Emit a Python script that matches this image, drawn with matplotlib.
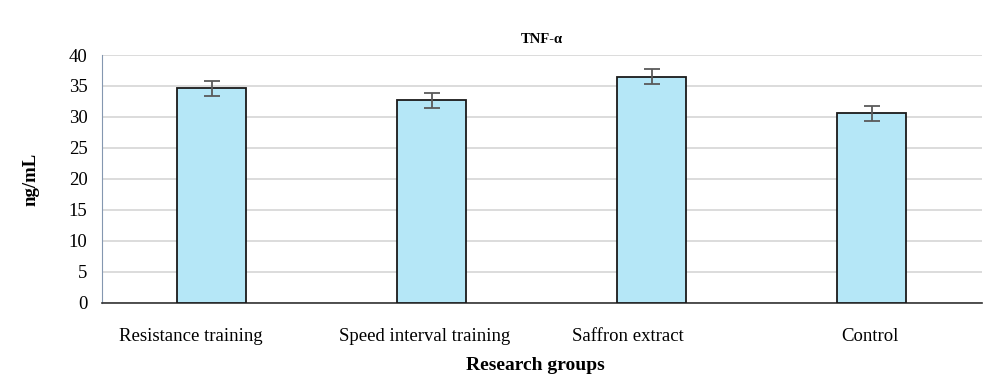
import matplotlib
matplotlib.use('Agg')
import matplotlib.pyplot as plt
from matplotlib.transforms import ScaledTranslation

#chart data
GROUPS = ['Resistance training', 'Speed interval training', 'Saffron extract', 'Control']
TNF_MEAN = [34.6, 32.7, 36.5, 30.6]
TNF_ERR = [1.25, 1.25, 1.25, 1.25]
Y_TICKS = [0, 5, 10, 15, 20, 25, 30, 35, 40]

plt.rcParams['font.family'] = ['Liberation Serif', 'DejaVu Serif']

fig = plt.figure(figsize=(10, 3.82), dpi=100)
ax = fig.add_axes([0.1015, 0.207, 0.8805, 0.649])

x = list(range(len(GROUPS)))
ax.bar(x, TNF_MEAN, width=0.314, color='#b5e7f7', edgecolor='#1a1a1a',
       linewidth=1.3, zorder=3)
ax.errorbar(x, TNF_MEAN, yerr=TNF_ERR, fmt='none', ecolor='#5a5a5a',
            elinewidth=1.3, capsize=5.5, capthick=1.3, zorder=4)

ax.set_xlim(-0.5, len(GROUPS) - 0.5)
ax.set_ylim(0, 40)
ax.set_yticks(Y_TICKS)
ax.set_xticks(x)
ax.set_xticklabels(GROUPS, fontsize=13.5)
ax.tick_params(axis='y', labelsize=13.5, length=0, pad=10)
ax.tick_params(axis='x', length=0, pad=18)

#labels in the original are not centred under the bars
label_shift = [-21, -7, -24, -2]
for lab, dx in zip(ax.get_xticklabels(), label_shift):
    lab.set_transform(lab.get_transform() + ScaledTranslation(dx / 100, 0, fig.dpi_scale_trans))

ax.yaxis.grid(True, color='#d9d9d9', linewidth=1.3, zorder=0)
ax.set_axisbelow(True)

for side in ['top', 'right']:
    ax.spines[side].set_visible(False)
ax.spines['left'].set_color('#8497b0')
ax.spines['bottom'].set_color('#333333')
ax.spines['bottom'].set_linewidth(1.2)

ax.set_title('TNF-α', fontsize=10.5, fontweight='bold', pad=9)
ax.set_xlabel('Research groups', fontsize=14, fontweight='bold')
ax.xaxis.set_label_coords(0.493, -0.22)
ax.set_ylabel('ng/mL', fontsize=13.5, fontweight='bold')
ax.yaxis.set_label_coords(-0.07, 0.5)

fig.savefig('out.png', dpi=100)
